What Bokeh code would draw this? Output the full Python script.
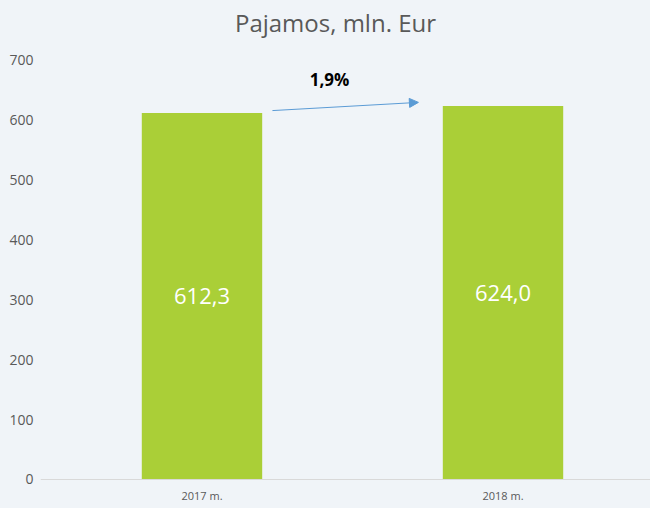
from bokeh.plotting import figure
from bokeh.models import ColumnDataSource, FixedTicker, Range1d, Label, Arrow, NormalHead, Span
from bokeh.embed import file_html
from bokeh.resources import INLINE

title_text = "Pajamos, mln. Eur"
categories = ["2017 m.", "2018 m."]
values = [612.3, 624.0]
value_labels = ["612,3", "624,0"]
growth_label = "1,9%"
y_ticks = [0, 100, 200, 300, 400, 500, 600, 700]

BG = "#f0f4f8"
BAR = "#aacf37"
TXT = "#595959"
FONT = "Open Sans"

idx = list(range(len(categories)))
src = ColumnDataSource(dict(x=idx, top=values, lab=value_labels,
                            ymid=[v / 2 for v in values],
                            cat=categories, ycat=[-26.7] * len(idx)))

p = figure(width=650, height=508, output_backend="svg", toolbar_location=None,
           x_range=Range1d(-0.5365, 1.490), y_range=Range1d(-48.45, 800.2),
           min_border_left=40, min_border_right=0, min_border_top=0,
           min_border_bottom=0)
p.background_fill_color = BG
p.border_fill_color = BG
p.outline_line_color = None
p.grid.grid_line_color = None

p.add_layout(Label(x=0.4435, y=763.5, text=title_text, text_align="center",
                   text_baseline="middle", text_font=FONT, text_font_size="24px",
                   text_color=TXT))

p.add_layout(Span(location=0, dimension="width", line_color="#d9d9d9", line_width=1))

p.vbar(x="x", top="top", width=0.4, source=src, fill_color=BAR, line_color=None)
p.text(x="x", y="ymid", text="lab", source=src, text_align="center",
       text_baseline="middle", text_color="white", text_font_size="22px",
       text_font={"value": FONT})
p.text(x="x", y="ycat", text="cat", source=src, text_align="center",
       text_baseline="middle", text_color=TXT, text_font_size="11px",
       text_font={"value": FONT})

# growth arrow and label
p.add_layout(Arrow(x_start=idx[0] + 0.234, y_start=values[0] + 4,
                   x_end=idx[1] - 0.281, y_end=values[1] + 6,
                   line_color="#5b9bd5", line_width=1,
                   end=NormalHead(size=9, fill_color="#5b9bd5", line_color="#5b9bd5")))
p.add_layout(Label(x=0.4236, y=668, text=growth_label, text_align="center",
                   text_baseline="middle", text_font=FONT, text_font_size="17px",
                   text_font_style="bold", text_color="black"))

p.xaxis.visible = False

p.yaxis.ticker = FixedTicker(ticks=y_ticks)
p.yaxis.axis_line_color = None
p.yaxis.major_tick_line_color = None
p.yaxis.minor_tick_line_color = None
p.yaxis.major_label_text_color = TXT
p.yaxis.major_label_text_font = FONT
p.yaxis.major_label_text_font_size = "14px"
p.yaxis.major_label_standoff = 1

html = file_html(p, INLINE)
html = html.replace("<head>", "<head><style>body{background:%s;}</style>" % BG, 1)
open("out.html", "w").write(html)
